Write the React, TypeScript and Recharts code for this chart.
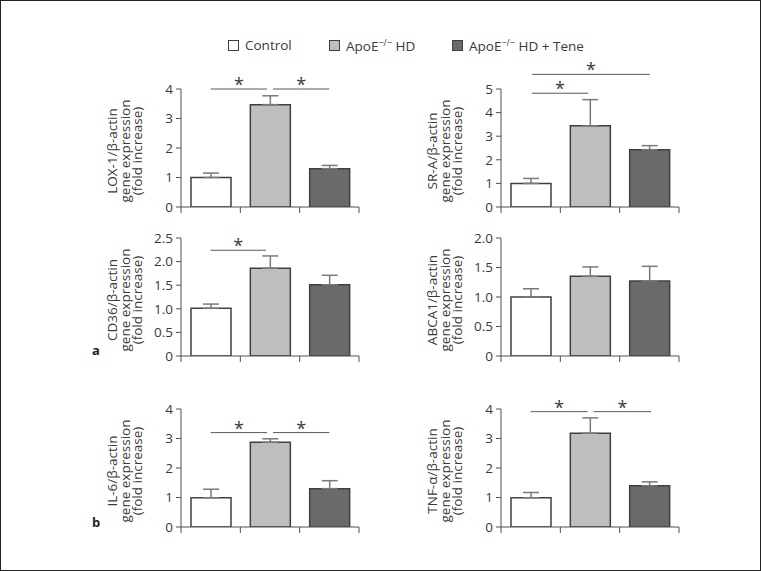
import React from 'react';
import { BarChart, Bar, XAxis, YAxis, ErrorBar, Cell, ReferenceLine, ReferenceDot } from 'recharts';

// groups, in bar order
const groups = ['Control', 'ApoE−/− HD', 'ApoE−/− HD + Tene'];
const groupX = [0.5, 1.5, 2.5];
const groupFills = ['#ffffff', '#bdbec0', '#6a6a6c'];

// fold increase (mean) and upper error per panel
const lox1Mean = [1.0, 3.47, 1.3];
const lox1Err = [0.15, 0.3, 0.11];
const srAMean = [1.0, 3.44, 2.43];
const srAErr = [0.21, 1.11, 0.17];
const cd36Mean = [1.01, 1.86, 1.51];
const cd36Err = [0.09, 0.26, 0.2];
const abca1Mean = [1.0, 1.35, 1.27];
const abca1Err = [0.14, 0.16, 0.25];
const il6Mean = [0.99, 2.87, 1.3];
const il6Err = [0.29, 0.12, 0.27];
const tnfMean = [0.99, 3.18, 1.4];
const tnfErr = [0.18, 0.52, 0.13];

// y ticks
const ticks0to4 = [0, 1, 2, 3, 4];
const ticks0to5 = [0, 1, 2, 3, 4, 5];
const ticks0to25 = [0, 0.5, 1.0, 1.5, 2.0, 2.5];
const ticks0to2 = [0, 0.5, 1.0, 1.5, 2.0];

// significance brackets (x in bar units, y in data units)
const lox1Sig = [{ x1: 0.5, x2: 1.45, y: 4 }, { x1: 1.55, x2: 2.5, y: 4 }];
const srASig = [{ x1: 0.52, x2: 1.47, y: 4.82 }, { x1: 0.52, x2: 2.51, y: 5.62 }];
const cd36Sig = [{ x1: 0.5, x2: 1.43, y: 2.24 }];
const abca1Sig: { x1: number; x2: number; y: number }[] = [];
const il6Sig = [{ x1: 0.5, x2: 1.45, y: 3.2 }, { x1: 1.55, x2: 2.5, y: 3.2 }];
const tnfSig = [{ x1: 0.5, x2: 1.46, y: 3.91 }, { x1: 1.56, x2: 2.53, y: 3.91 }];

const FONT = '"Open Sans", "Noto Sans", sans-serif';
const AXIS = '#505050';
const TEXT = '#3a3a3a';

const PLOT_W = 178;
const PLOT_H = 118;
const AXIS_W = 110;
const MT = 40;
const XH = 20;

type Bracket = { x1: number; x2: number; y: number };

interface PanelProps {
  left: number;
  top: number;
  label: string;
  means: number[];
  errs: number[];
  ticks: number[];
  sig: Bracket[];
  decimals?: number;
}

// three-line rotated y title, drawn next to the axis
const AxisTitle = ({ label }: { label: string }) => {
  const cy = MT + PLOT_H / 2 + 3;
  const lines = [label, 'gene expression', '(fold increase)'];
  const offs = [-64, -51.5, -39.5];
  return (
    <svg width={AXIS_W} height={MT + PLOT_H + XH} style={{ position: 'absolute', left: 0, top: 0 }}>
      {lines.map((t, i) => (
        <text
          key={i}
          x={AXIS_W + offs[i]}
          y={cy}
          transform={`rotate(-90, ${AXIS_W + offs[i]}, ${cy})`}
          textAnchor="middle"
          fontSize={13.5}
          fontFamily={FONT}
          fill={TEXT}
        >
          {t}
        </text>
      ))}
    </svg>
  );
};

const Panel: React.FC<PanelProps> = ({ left, top, label, means, errs, ticks, sig, decimals = 0 }) => {
  const data = means.map((m, i) => ({ x: groupX[i], name: groups[i], value: m, err: [0, errs[i]] }));
  const fmt = (v: number) => (v === 0 ? '0' : v.toFixed(decimals));
  return (
    <div style={{ position: 'absolute', left: left - AXIS_W, top: top - MT }}>
      <AxisTitle label={label} />
      <BarChart
        width={AXIS_W + PLOT_W + 20}
        height={MT + PLOT_H + XH}
        data={data}
        margin={{ top: MT, right: 20, bottom: 0, left: 0 }}
      >
        <XAxis
          type="number"
          dataKey="x"
          domain={[0, 3]}
          ticks={[0, 1, 2, 3]}
          allowDataOverflow
          tickSize={6}
          tickFormatter={() => ''}
          height={XH}
          stroke={AXIS}
        />
        <YAxis
          domain={[0, ticks[ticks.length - 1]]}
          ticks={ticks}
          allowDataOverflow
          width={AXIS_W}
          tickSize={5}
          tickMargin={3}
          tickFormatter={fmt}
          stroke={AXIS}
          tick={{ fill: TEXT, fontSize: 13.5, fontFamily: FONT }}
        />
        <Bar dataKey="value" barSize={40} stroke="#404040" strokeWidth={1.5} isAnimationActive={false}>
          {data.map((d, i) => (
            <Cell key={d.name} fill={groupFills[i]} />
          ))}
          <ErrorBar dataKey="err" direction="y" width={8} stroke="#7a7a7a" strokeWidth={1.5} />
        </Bar>
        {sig.map((b, i) => (
          <ReferenceLine
            key={`l${i}`}
            segment={[{ x: b.x1, y: b.y }, { x: b.x2, y: b.y }]}
            stroke="#5a5a5a"
            strokeWidth={1}
            ifOverflow="visible"
          />
        ))}
        {sig.map((b, i) => (
          <ReferenceDot
            key={`d${i}`}
            x={(b.x1 + b.x2) / 2}
            y={b.y}
            r={0}
            fill="none"
            stroke="none"
            ifOverflow="visible"
            label={{ value: '*', position: 'top', offset: -2, fontSize: 18, fill: TEXT, fontFamily: FONT }}
          />
        ))}
      </BarChart>
    </div>
  );
};

const LegendItem = ({ x, fill, children }: { x: number; fill: string; children: React.ReactNode }) => (
  <div style={{ position: 'absolute', left: x, top: 35, display: 'flex', alignItems: 'center', height: 18 }}>
    <div style={{ width: 9, height: 9, border: '1.5px solid #404040', background: fill, marginRight: 6 }} />
    <span style={{ fontSize: 13.5, color: TEXT, fontFamily: FONT, whiteSpace: 'nowrap' }}>{children}</span>
  </div>
);

const Sup = () => <sup style={{ fontSize: 9, verticalAlign: 5 }}>−/−</sup>;

export default function App() {
  return (
    <div
      style={{
        position: 'absolute',
        left: 0,
        top: 0,
        width: 761,
        height: 571,
        boxSizing: 'border-box',
        border: '1.5px solid #222',
        background: '#fff',
        fontFamily: FONT,
      }}
    >
      <LegendItem x={227} fill={groupFills[0]}>Control</LegendItem>
      <LegendItem x={328} fill={groupFills[1]}>
        ApoE<Sup /> HD
      </LegendItem>
      <LegendItem x={451} fill={groupFills[2]}>
        ApoE<Sup /> HD + Tene
      </LegendItem>

      <Panel left={180} top={88} label="LOX-1/β-actin" means={lox1Mean} errs={lox1Err} ticks={ticks0to4} sig={lox1Sig} />
      <Panel left={500} top={88} label="SR-A/β-actin" means={srAMean} errs={srAErr} ticks={ticks0to5} sig={srASig} />
      <Panel left={180} top={237} label="CD36/β-actin" means={cd36Mean} errs={cd36Err} ticks={ticks0to25} sig={cd36Sig} decimals={1} />
      <Panel left={500} top={237} label="ABCA1/β-actin" means={abca1Mean} errs={abca1Err} ticks={ticks0to2} sig={abca1Sig} decimals={1} />
      <Panel left={180} top={408} label="IL-6/β-actin" means={il6Mean} errs={il6Err} ticks={ticks0to4} sig={il6Sig} />
      <Panel left={500} top={408} label="TNF-α/β-actin" means={tnfMean} errs={tnfErr} ticks={ticks0to4} sig={tnfSig} />

      <div style={{ position: 'absolute', left: 91, top: 340, fontSize: 13, fontWeight: 'bold', color: '#222' }}>a</div>
      <div style={{ position: 'absolute', left: 91, top: 512, fontSize: 13, fontWeight: 'bold', color: '#222' }}>b</div>
    </div>
  );
}
